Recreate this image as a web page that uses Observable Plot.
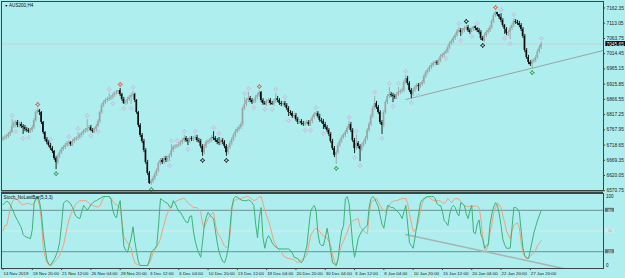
<!DOCTYPE html>
<html><head><meta charset="utf-8">
<script src="https://cdn.jsdelivr.net/npm/d3@7"></script>
<script src="https://cdn.jsdelivr.net/npm/@observablehq/plot@0.6"></script>
<style>
html,body{margin:0;padding:0;background:#afeeee;}
#wrap{position:relative;width:625px;height:278px;background:#afeeee;overflow:hidden;}
#wrap svg{position:absolute;left:0;overflow:visible;}
</style></head><body><div id="wrap"></div>
<script>
// ---- AUS200 H4 candles (bar index 0..294) ----
const open = [6737,6740,6743,6746,6753,6759,6779,6788,6792,6782,6785,6779,6775,6769,6766,6762,6766,6775,6798,6824,
6830,6824,6792,6759,6737,6727,6717,6707,6698,6675,6662,6682,6694,6704,6711,6717,6724,6727,6720,6730,
6737,6740,6743,6750,6756,6762,6766,6772,6775,6766,6762,6769,6779,6795,6824,6847,6856,6863,6866,6869,
6873,6879,6886,6889,6895,6882,6866,6853,6856,6866,6873,6879,6882,6863,6824,6782,6750,6730,6701,6662,
6627,6594,6601,6610,6623,6636,6659,6669,6662,6675,6669,6675,6685,6701,6711,6714,6717,6720,6727,6733,
6740,6733,6730,6740,6737,6740,6743,6733,6730,6714,6694,6714,6727,6730,6733,6743,6740,6733,6727,6724,
6733,6727,6714,6694,6711,6724,6737,6750,6762,6769,6775,6785,6837,6850,6863,6869,6863,6856,6860,6873,
6879,6889,6863,6853,6850,6860,6863,6853,6850,6860,6869,6863,6853,6850,6853,6847,6837,6824,6821,6811,
6814,6801,6792,6795,6788,6785,6788,6792,6785,6795,6808,6818,6821,6811,6798,6795,6785,6775,6766,6753,
6730,6707,6685,6694,6717,6730,6743,6750,6759,6772,6785,6766,6733,6707,6724,6714,6704,6717,6727,6740,
6766,6785,6811,6837,6853,6840,6824,6792,6782,6824,6856,6876,6882,6879,6876,6873,6882,6889,6892,6895,
6921,6934,6918,6895,6882,6895,6905,6911,6908,6915,6921,6941,6954,6960,6970,6976,6983,6986,6983,6992,
7005,7009,7015,7021,7034,7047,7054,7064,7073,7086,7089,7083,7089,7096,7099,7089,7083,7093,7102,7096,
7089,7083,7064,7057,7073,7083,7089,7099,7119,7138,7148,7141,7132,7122,7106,7093,7080,7083,7096,7106,
7119,7115,7112,7106,7093,7070,7025,7002,6986,6979,6989,6992,7002,7021,7034];
const high = [6746,6750,6753,6759,6766,6801,6795,6798,6798,6792,6792,6785,6782,6775,6772,6772,6782,6805,6830,6837,
6834,6827,6795,6762,6743,6733,6724,6714,6701,6682,6688,6701,6711,6717,6724,6730,6733,6730,6737,6743,
6746,6759,6756,6762,6769,6772,6801,6782,6782,6772,6775,6785,6801,6830,6853,6863,6869,6873,6886,6879,
6886,6892,6895,6895,6902,6886,6873,6863,6873,6879,6886,6892,6886,6866,6827,6788,6756,6737,6707,6669,
6633,6607,6617,6630,6643,6665,6675,6675,6682,6682,6682,6691,6720,6717,6720,6720,6727,6733,6740,6750,
6746,6740,6746,6746,6746,6750,6750,6740,6737,6720,6720,6733,6737,6740,6750,6762,6746,6740,6743,6740,
6740,6733,6720,6717,6730,6743,6756,6769,6775,6782,6792,6843,6873,6869,6889,6876,6869,6866,6879,6886,
6895,6892,6869,6860,6866,6869,6869,6860,6866,6886,6876,6869,6860,6860,6860,6853,6843,6830,6827,6821,
6821,6808,6801,6801,6795,6795,6798,6798,6801,6814,6824,6827,6827,6818,6805,6801,6792,6782,6772,6759,
6737,6714,6701,6724,6737,6750,6756,6766,6779,6795,6792,6772,6740,6750,6730,6720,6724,6733,6746,6772,
6792,6818,6843,6876,6860,6847,6830,6798,6830,6863,6882,6905,6889,6886,6882,6889,6905,6898,6902,6928,
6944,6941,6924,6902,6902,6911,6918,6918,6921,6928,6947,6960,6966,6976,6983,6989,6992,6992,6999,7012,
7015,7021,7028,7041,7054,7060,7070,7080,7093,7099,7096,7096,7102,7106,7106,7096,7099,7102,7104,7099,
7096,7089,7070,7080,7089,7096,7106,7125,7144,7151,7148,7141,7144,7128,7109,7099,7089,7102,7112,7128,
7125,7122,7119,7112,7099,7077,7031,7009,6992,6996,6999,7009,7028,7041,7051];
const low = [6730,6733,6737,6740,6746,6756,6772,6775,6775,6775,6772,6753,6762,6759,6756,6756,6759,6769,6792,6818,
6814,6785,6753,6730,6720,6711,6701,6691,6669,6639,6656,6675,6688,6698,6704,6711,6714,6714,6714,6724,
6730,6733,6737,6743,6750,6756,6759,6762,6762,6756,6756,6762,6775,6788,6818,6840,6850,6856,6860,6863,
6866,6873,6879,6882,6876,6860,6850,6847,6850,6860,6850,6873,6856,6818,6775,6743,6724,6694,6656,6620,
6591,6588,6594,6604,6617,6630,6652,6656,6656,6662,6662,6665,6678,6694,6704,6707,6711,6714,6720,6727,
6727,6717,6724,6730,6730,6733,6727,6724,6707,6682,6688,6707,6720,6724,6727,6733,6727,6720,6717,6717,
6720,6707,6682,6688,6704,6717,6730,6743,6756,6762,6769,6779,6830,6843,6856,6856,6850,6853,6853,6866,
6873,6856,6847,6847,6843,6853,6847,6847,6843,6853,6856,6847,6843,6843,6840,6830,6811,6814,6805,6805,
6795,6785,6785,6782,6779,6779,6782,6779,6779,6788,6801,6811,6805,6792,6788,6769,6769,6759,6746,6724,
6701,6678,6656,6688,6711,6724,6737,6743,6753,6766,6759,6727,6691,6701,6707,6665,6698,6711,6720,6733,
6759,6779,6805,6830,6834,6818,6785,6753,6775,6818,6850,6869,6873,6856,6866,6866,6876,6882,6886,6889,
6915,6911,6889,6869,6876,6889,6898,6892,6902,6908,6915,6934,6947,6954,6963,6970,6976,6976,6976,6986,
6999,7002,7012,7015,7028,7041,7047,7057,7067,7080,7070,7077,7083,7089,7083,7077,7083,7086,7089,7083,
7077,7057,7054,7051,7067,7077,7083,7093,7112,7132,7135,7125,7115,7099,7077,7073,7070,7060,7089,7099,
7109,7106,7099,7086,7064,7018,6996,6979,6973,6966,6983,6986,6996,7015,7028];
const close = [6740,6743,6746,6753,6759,6779,6788,6792,6782,6785,6779,6775,6769,6766,6762,6766,6775,6798,6824,6830,
6824,6792,6759,6737,6727,6717,6707,6698,6675,6662,6682,6694,6704,6711,6717,6724,6727,6720,6730,6737,
6740,6743,6750,6756,6762,6766,6772,6775,6766,6762,6769,6779,6795,6824,6847,6856,6863,6866,6869,6873,
6879,6886,6889,6895,6882,6866,6853,6856,6866,6873,6879,6882,6863,6824,6782,6750,6730,6701,6662,6627,
6594,6601,6610,6623,6636,6659,6669,6662,6675,6669,6675,6685,6701,6711,6714,6717,6720,6727,6733,6740,
6733,6730,6740,6737,6740,6743,6733,6730,6714,6694,6714,6727,6730,6733,6743,6740,6733,6727,6724,6733,
6727,6714,6694,6711,6724,6737,6750,6762,6769,6775,6785,6837,6850,6863,6869,6863,6856,6860,6873,6879,
6889,6863,6853,6850,6860,6863,6853,6850,6860,6869,6863,6853,6850,6853,6847,6837,6824,6821,6811,6814,
6801,6792,6795,6788,6785,6788,6792,6785,6795,6808,6818,6821,6811,6798,6795,6785,6775,6766,6753,6730,
6707,6685,6694,6717,6730,6743,6750,6759,6772,6785,6766,6733,6707,6724,6714,6704,6717,6727,6740,6766,
6785,6811,6837,6853,6840,6824,6792,6782,6824,6856,6876,6882,6879,6876,6873,6882,6889,6892,6895,6921,
6934,6918,6895,6882,6895,6905,6911,6908,6915,6921,6941,6954,6960,6970,6976,6983,6986,6983,6992,7005,
7009,7015,7021,7034,7047,7054,7064,7073,7086,7089,7083,7089,7096,7099,7089,7083,7093,7102,7096,7089,
7083,7064,7057,7073,7083,7089,7099,7119,7138,7148,7141,7132,7122,7106,7093,7080,7083,7096,7106,7119,
7115,7112,7106,7093,7070,7025,7002,6986,6979,6989,6992,7002,7021,7034,7045.65];

// ---- Stochastic (5,3,3): main %K and signal %D ----
const stochK = [88,91,93,92,88,82,76,70,65,60,55,45,42,41,40,39,52,90,98,100,
92,75,45,25,8,2,0,5,9,15,22,35,60,90,93,94,92,89,84,76,
71,69,68,78,87,84,80,84,88,91,93,94,96,97,99,100,100,100,100,96,
80,72,69,85,94,60,28,22,19,30,40,56,35,19,5,0,0,0,0,0,
8,19,22,25,29,60,97,95,93,91,90,85,84,94,90,84,78,77,72,67,
63,62,71,72,50,35,25,18,12,35,60,70,77,73,70,68,50,33,20,12,
6,4,12,25,55,85,97,100,99,97,95,94,94,94,95,94,91,87,60,40,
70,84,40,25,38,43,39,33,29,27,25,24,24,24,24,24,24,22,18,12,
11,10,6,4,8,18,29,55,78,84,87,80,46,32,29,29,40,54,39,20,
4,2,0,10,33,50,58,97,100,90,62,30,12,25,39,45,50,53,56,58,
85,97,100,97,91,85,72,60,54,70,87,86,84,84,82,79,77,73,68,78,
87,60,33,29,25,40,58,75,91,95,97,99,100,100,100,100,97,90,87,87,
78,65,62,58,75,84,87,84,76,72,91,89,87,75,68,80,87,48,46,60,
66,45,39,25,29,30,60,75,85,91,87,75,58,38,30,25,25,25,55,84,
84,82,77,50,25,14,11,10,22,35,48,57,66,73,80];
const stochD = [50,58,58,70,85,92,96,97,96,92,89,88,89,90,90,89,88,91,95,97,
85,65,25,12,4,1,0,2,5,8,11,15,22,29,42,55,66,74,80,85,
90,92,94,94,94,94,93,90,88,87,86,85,85,87,93,99,100,100,100,98,
93,90,88,86,84,65,42,37,33,29,25,12,4,2,1,0,0,0,0,0,
4,10,19,23,27,32,39,50,60,70,77,82,87,91,92,94,95,96,97,97,
94,91,88,87,84,84,84,81,77,60,55,62,68,72,75,77,60,48,43,40,
33,28,26,27,45,80,94,95,96,97,97,98,99,100,100,98,96,94,95,97,
99,100,90,80,72,65,56,45,35,30,25,22,19,15,12,11,10,10,9,8,
6,4,6,8,10,12,15,30,43,48,52,54,52,49,46,43,41,40,35,29,
15,6,0,8,22,30,36,42,48,56,62,65,66,67,68,56,53,50,48,46,
75,91,94,95,97,92,87,82,80,78,80,88,91,93,94,94,95,96,97,97,
97,90,75,62,50,50,55,65,80,90,96,98,100,98,96,94,94,94,94,93,
91,90,93,97,94,91,95,97,97,96,93,90,87,86,85,86,86,86,86,86,
84,68,40,24,22,30,48,60,77,84,91,88,84,72,62,50,44,39,50,58,
60,62,55,33,18,13,10,11,14,16,19,23,29,33,36];

// ---- axes / labels ----
const priceTicks = [7162.35,7113.05,7063.75,7014.45,6965.15,6915.85,6866.55,6817.25,6767.95,6718.65,6669.35,6620.05,6570.75];
const timeLabelBars = [0,16,32,48,64,80,96,112,128,144,160,176,192,208,224,240,256,272,288];
const timeLabels = ["14 Nov 2019","18 Nov 20:00","21 Nov 12:00","26 Nov 04:00","28 Nov 20:00","3 Dec 12:00","6 Dec 04:00",
"10 Dec 20:00","13 Dec 12:00","18 Dec 04:00","20 Dec 20:00","30 Dec 04:00","3 Jan 12:00","8 Jan 04:00","10 Jan 20:00",
"15 Jan 12:00","20 Jan 04:00","22 Jan 20:00","27 Jan 20:00"];
const stochLevels = [80, 50, 20];

// ---- fractal markers (bar index + kind: n=normal, r=red, g=green, k=black) ----
const fracUpBars = [5,19,26,36,41,46,58,64,71,92,95,99,105,115,118,132,134,140,149,154,171,189,193,203,211,216,220,249,253,259,269,272,279,294];
const fracUpKind = ["n","r","n","n","n","n","n","r","n","n","n","n","n","n","n","n","n","r","n","n","n","n","n","n","n","n","n","n","k","n","r","n","n","n"];
const fracDnBars = [7,11,14,29,48,52,60,66,70,81,91,101,109,122,137,143,147,156,165,168,175,182,192,195,207,213,223,227,242,250,256,262,274,277,289];
const fracDnKind = ["n","n","n","g","n","n","n","n","n","g","n","n","k","k","n","n","n","n","n","n","n","g","n","n","n","n","n","n","n","n","n","k","n","n","g"];

// ---- trend lines ----
const trendBars = [220, 328], trendPrices = [6866, 7025];
const stochTrendBars = [220, 306], stochTrendValues = [45, -4.3];

// ---------------------------------------------------------------
const xMin = -0.82, xMax = 327.96;
const frameColor = "#3a4646";
const bullColor = "#9aa4a4", bearColor = "#0a0a0a";
const fontFamily = "'Liberation Sans', Arial, sans-serif";
const lastPrice = close[close.length - 1];

const bars = close.map((c, i) => ({i, o: open[i], h: high[i], l: low[i], c, col: c >= open[i] ? bullColor : bearColor}));
const kindColor = {n: "#cdbbe2", r: "#e0553a", g: "#2f9e44", k: "#1c1c1c"};
const fracUp = fracUpBars.map((b, k) => ({i: b, p: high[b], col: kindColor[fracUpKind[k]]}));
const fracDn = fracDnBars.map((b, k) => ({i: b, p: low[b], col: kindColor[fracDnKind[k]]}));
const trend = trendBars.map((b, k) => ({i: b, p: trendPrices[k]}));
const stochTrend = stochTrendBars.map((b, k) => ({i: b, v: stochTrendValues[k]}));
const stoch = stochK.map((k, i) => ({i, k, d: stochD[i]}));

const star4 = {draw(ctx, size) {
  const r = Math.sqrt(size / Math.PI), q = r * 0.3;
  ctx.moveTo(0, -r); ctx.lineTo(q, -q); ctx.lineTo(r, 0); ctx.lineTo(q, q);
  ctx.lineTo(0, r); ctx.lineTo(-q, q); ctx.lineTo(-r, 0); ctx.lineTo(-q, -q); ctx.closePath();
}};

const main = Plot.plot({
  width: 625, height: 191, marginTop: 1, marginBottom: 1, marginLeft: 1, marginRight: 22,
  style: {background: "transparent", overflow: "visible", fontFamily},
  x: {domain: [xMin, xMax], axis: null},
  y: {domain: [6571.5, 7183.4], axis: null},
  color: {type: "identity"},
  marks: [
    Plot.ruleY([lastPrice], {stroke: "#c2d5d5", strokeWidth: 1}),
    Plot.line(trend, {x: "i", y: "p", stroke: "#98a4a4", strokeWidth: 1}),
    Plot.ruleX(bars, {x: "i", y1: "l", y2: "h", stroke: "col", strokeWidth: 0.9}),
    Plot.rect(bars, {x1: d => d.i - 0.4, x2: d => d.i + 0.4, y1: "o", y2: "c", fill: "col"}),
    Plot.dot(fracUp, {x: "i", y: "p", dy: -4, r: 2.3, symbol: star4, stroke: "col", fill: "none", strokeWidth: 0.9}),
    Plot.dot(fracDn, {x: "i", y: "p", dy: 4, r: 2.3, symbol: star4, stroke: "col", fill: "none", strokeWidth: 0.9}),
    Plot.frame({stroke: frameColor}),
    Plot.ruleY(priceTicks, {x1: xMax, x2: xMax + 1.1, stroke: frameColor}),
    Plot.text(priceTicks, {x: () => xMax, y: d => d, text: d => d.toFixed(2), dx: 3, textAnchor: "start", lineAnchor: "middle", fontSize: 4.8, fill: "#222"}),
    Plot.rect([lastPrice], {x1: () => xMax + 1.3, x2: () => xMax + 12, y1: d => d - 8, y2: d => d + 8, fill: "#000"}),
    Plot.text([lastPrice], {x: () => xMax, y: d => d, text: d => d.toFixed(2), dx: 3, textAnchor: "start", lineAnchor: "middle", fontSize: 4.8, fill: "#fff"}),
    Plot.text(["▼"], {frameAnchor: "top-left", dx: 3, dy: 4, lineAnchor: "middle", fontSize: 3.5, fill: "#000"}),
    Plot.text(["AUS200,H4"], {frameAnchor: "top-left", dx: 7.5, dy: 4, textAnchor: "start", lineAnchor: "middle", fontSize: 4.6, fill: "#111"})
  ]
});
main.style.top = "0px";

const yLo = -4.35, yHi = 104.35;
const lower = Plot.plot({
  width: 625, height: 87, marginTop: 2, marginBottom: 10, marginLeft: 1, marginRight: 22,
  style: {background: "transparent", overflow: "visible", fontFamily},
  x: {domain: [xMin, xMax], axis: null},
  y: {domain: [yLo, yHi], axis: null},
  marks: [
    Plot.ruleY([50], {stroke: "#d2ecec"}),
    Plot.ruleY([80, 20], {stroke: "#6c9292"}),
    Plot.line(stochTrend, {x: "i", y: "v", stroke: "#a8b3b3", clip: true}),
    Plot.line(stoch, {x: "i", y: "d", stroke: "#f2a07c", strokeWidth: 1}),
    Plot.line(stoch, {x: "i", y: "k", stroke: "#3db277", strokeWidth: 1}),
    Plot.frame({stroke: frameColor}),
    Plot.ruleY([yHi], {stroke: frameColor, strokeWidth: 2, dy: -1}),
    Plot.ruleX(timeLabelBars, {y1: yLo, y2: yLo - 2.9, stroke: frameColor}),
    Plot.text(timeLabelBars, {x: d => d, y: () => yLo, text: (d, k) => timeLabels[k], textAnchor: "start", lineAnchor: "middle", dx: 0.5, dy: 5, fontSize: 4.4, fill: "#222"}),
    Plot.rect(stochLevels, {x1: () => xMax + 1, x2: () => xMax + 6, y1: d => d - 2.9, y2: d => d + 2.9, fill: d => d === 50 ? "#dfe8e8" : "#5f7878"}),
    Plot.text(stochLevels, {x: () => xMax + 3.5, y: d => d, text: d => String(d), textAnchor: "middle", lineAnchor: "middle", fontSize: 4, fill: d => d === 50 ? "#9aa" : "#e8f0f0"}),
    Plot.text([100, 0], {x: () => xMax, y: d => d, text: d => String(d), dx: 2.5, textAnchor: "start", lineAnchor: "middle", fontSize: 4.6, fill: "#222"}),
    Plot.text(["Stoch_NoLastBar(5,3,3)"], {frameAnchor: "top-left", dx: 2, dy: 4, textAnchor: "start", lineAnchor: "middle", fontSize: 4.6, fill: "#111"})
  ]
});
lower.style.top = "191px";

const wrap = document.getElementById("wrap");
wrap.appendChild(main);
wrap.appendChild(lower);
</script>
</body></html>
